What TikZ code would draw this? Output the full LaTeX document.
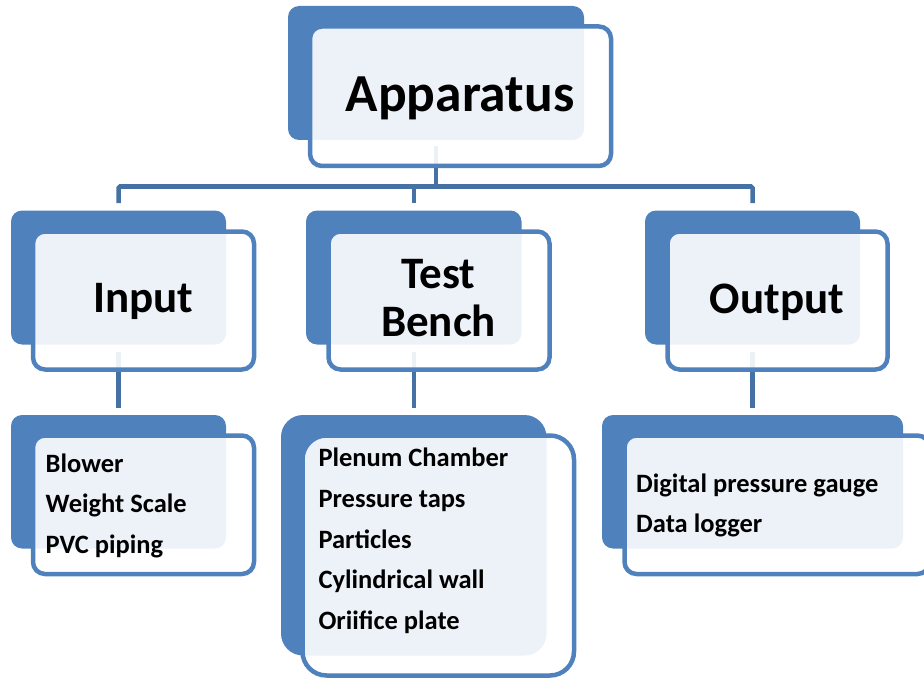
\documentclass[tikz,border=0pt]{standalone}
\usepackage{fontspec}
\setmainfont{Carlito}
\usetikzlibrary{backgrounds}
\definecolor{accent}{HTML}{4F81BD}
\definecolor{linkblue}{HTML}{4571A4}
\begin{document}
\begin{tikzpicture}[x=1pt,y=-1pt,
  backbox/.style={fill=accent, rounded corners=11pt, anchor=north west,
    inner sep=0pt, outer sep=0pt},
  frontbox/.style={draw=accent, line width=4.5pt, fill=white, fill opacity=0.9,
    rounded corners=12pt, anchor=north west, inner sep=0pt, outer sep=0pt},
  conn/.style={draw=linkblue, line width=4.5pt},
  title/.style={font=\bfseries\fontsize{53.5}{60}\selectfont, anchor=base, inner sep=0pt},
  head/.style={font=\bfseries\fontsize{45}{48.5}\selectfont, anchor=base, inner sep=0pt},
  item/.style={font=\bfseries\fontsize{26.5}{40}\selectfont, anchor=base west, inner sep=0pt}]
\useasboundingbox (0,0) rectangle (924,682);
\clip (0,0) rectangle (924,682);

% --- top level: Apparatus
\node[backbox, minimum width=296pt, minimum height=134pt] (appB) at (288,6) {};
\node[frontbox, minimum width=301pt, minimum height=139.5pt] (appF) at (310,26.5) {};
\node[title] (appT) at (460,112) {Apparatus};

% --- second level
\node[backbox, minimum width=215pt, minimum height=134pt] (inB) at (11,210.5) {};
\node[frontbox, minimum width=221pt, minimum height=138pt] (inF) at (33,231.5) {};
\node[head] (inT) at (143.5,312.7) {Input};

\node[backbox, minimum width=215.5pt, minimum height=134pt] (tbB) at (306,210.5) {};
\node[frontbox, minimum width=221pt, minimum height=138pt] (tbF) at (328.5,231.5) {};
\node[head] (tbT1) at (438.5,288) {Test};
\node[head] (tbT2) at (438.5,336.7) {Bench};

\node[backbox, minimum width=215pt, minimum height=134pt] (outB) at (645,210.5) {};
\node[frontbox, minimum width=220pt, minimum height=138pt] (outF) at (667.5,231.5) {};
\node[head] (outT) at (777,313) {Output};

% --- third level: lists
\node[backbox, minimum width=215pt, minimum height=133.5pt] (inLB) at (11,415) {};
\node[frontbox, minimum width=221pt, minimum height=138.5pt] (inLF) at (33,435.5) {};
\node[item] (in1) at (45.5,472) {Blower};
\node[item] (in2) at (45.5,512.7) {Weight Scale};
\node[item] (in3) at (45.5,553.4) {PVC piping};

\node[backbox, minimum width=265.5pt, minimum height=240.5pt, rounded corners=22pt] (tbLB) at (281,415) {};
\node[frontbox, minimum width=271.5pt, minimum height=240pt, rounded corners=24pt] (tbLF) at (302.5,435.5) {};
\node[item] (tb1) at (318.3,466.7) {Plenum Chamber};
\node[item] (tb2) at (318.3,507.4) {Pressure taps};
\node[item] (tb3) at (318.3,548.1) {Particles};
\node[item] (tb4) at (318.3,588.8) {Cylindrical wall};
\node[item] (tb5) at (318.3,629.5) {Oriifice plate};

\node[backbox, minimum width=301pt, minimum height=133.5pt] (outLB) at (602,415) {};
\node[frontbox, minimum width=305pt, minimum height=138.5pt] (outLF) at (624.5,435.5) {};
\node[item] (out1) at (636,492.7) {Digital pressure gauge};
\node[item] (out2) at (636,532.7) {Data logger};

% --- connectors, behind the boxes
\begin{scope}[on background layer]
  \coordinate (bar) at (0,186.5);
  \draw[conn] ([yshift=-6pt]appB.south) -- (appB.south |- bar);
  \draw[conn, rounded corners=1.5pt] ([yshift=7.5pt]inB.north) -- (inB.north |- bar)
    -- (outB.north |- bar) -- ([yshift=7.5pt]outB.north);
  \draw[conn] (tbB.north |- bar) -- ([yshift=7.5pt]tbB.north);
  \draw[conn] ([yshift=-7.5pt]inB.south) -- ([yshift=7.5pt]inLB.north);
  \draw[conn] ([yshift=-7.5pt]tbB.south) -- ([yshift=7.5pt]tbLB.north);
  \draw[conn] ([yshift=-7.5pt]outB.south) -- ([yshift=7.5pt]outLB.north);
\end{scope}
\end{tikzpicture}
\end{document}
